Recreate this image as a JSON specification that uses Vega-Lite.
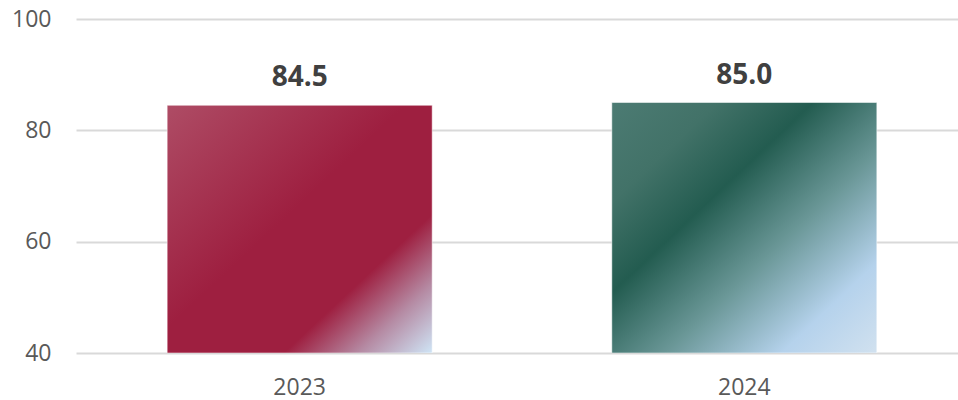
{
  "$schema": "https://vega.github.io/schema/vega-lite/v6.json",
  "autosize": "none",
  "padding": {"left": 76, "top": 19, "right": 0, "bottom": 47},
  "width": 892,
  "height": 334,
  "background": "#ffffff",
  "config": {
    "view": {"stroke": null},
    "font": "Open Sans"
  },
  "data": {
    "values": [
      {"year": "2023", "value": 84.5},
      {"year": "2024", "value": 85.0}
    ]
  },
  "encoding": {
    "x": {
      "field": "year",
      "type": "nominal",
      "scale": {"paddingInner": 0.404, "paddingOuter": 0.205},
      "axis": {
        "title": null,
        "domain": false,
        "ticks": false,
        "labelAngle": 0,
        "labelFont": "Open Sans",
        "labelFontSize": 23,
        "labelColor": "#595959",
        "labelPadding": 23
      }
    },
    "y": {
      "field": "value",
      "type": "quantitative",
      "scale": {"domain": [40, 100], "nice": false, "zero": false},
      "axis": {
        "title": null,
        "domain": false,
        "ticks": false,
        "values": [40, 60, 80, 100],
        "labelFont": "Open Sans",
        "labelFontSize": 23,
        "labelColor": "#595959",
        "labelPadding": 25,
        "gridColor": "#d9d9d9",
        "gridWidth": 2
      }
    }
  },
  "layer": [
    {
      "mark": {"type": "bar", "stroke": "#ffffff", "strokeOpacity": 0.5, "strokeWidth": 1, "clip": true},
      "encoding": {
        "y2": {"datum": 40},
        "fill": {
          "condition": {
            "test": "datum.year == '2023'",
            "value": {
              "gradient": "linear",
              "x1": 0, "y1": 0, "x2": 1, "y2": 1,
              "stops": [
                {"offset": 0, "color": "#ae4c65"},
                {"offset": 0.45, "color": "#9e1f40"},
                {"offset": 0.72, "color": "#9e1f40"},
                {"offset": 0.86, "color": "#b58aa3"},
                {"offset": 1, "color": "#cfe5f6"}
              ]
            }
          },
          "value": {
            "gradient": "linear",
            "x1": 0, "y1": 0, "x2": 1, "y2": 1,
            "stops": [
              {"offset": 0, "color": "#4c7b73"},
              {"offset": 0.2, "color": "#427268"},
              {"offset": 0.38, "color": "#235c50"},
              {"offset": 0.6, "color": "#6a9797"},
              {"offset": 0.82, "color": "#b5d2ec"},
              {"offset": 1, "color": "#d1e1ef"}
            ]
          }
        }
      }
    },
    {
      "mark": {
        "type": "text",
        "font": "Open Sans",
        "fontSize": 28,
        "fontWeight": "bold",
        "color": "#404040",
        "baseline": "alphabetic",
        "dy": -19
      },
      "encoding": {
        "text": {"field": "value", "type": "quantitative", "format": ".1f"}
      }
    }
  ]
}
